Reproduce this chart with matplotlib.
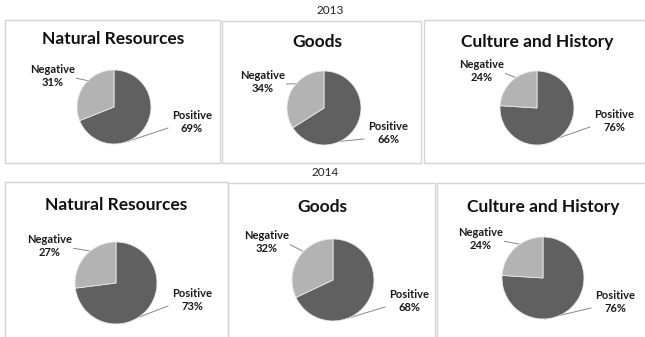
import numpy as np
import matplotlib
matplotlib.use("Agg")
import matplotlib.pyplot as plt
from matplotlib.patches import Rectangle

plt.rcParams['font.family'] = ['Lato', 'DejaVu Sans']

W, H = 645, 337

# data
years = ["2013", "2014"]
categories = ["Natural Resources", "Goods", "Culture and History"]
positive = [[69, 66, 76], [73, 68, 76]]
negative = [[31, 34, 24], [27, 32, 24]]

dark = "#606060"
light = "#b3b3b3"
edge = "#d4d4d4"

# layout (pixels): panel boxes, pie centres/radii, label spots
boxes = [[(5, 20, 220, 163), (222, 21, 421, 163), (424, 20, 648, 163)],
         [(5, 182, 228, 340), (228, 183, 435, 340), (437, 183, 648, 340)]]
centres = [[(114, 107), (324, 108), (537, 108)],
           [(116, 283), (333, 280), (543, 278)]]
radii = [37, 41]
title_pos = [[(113, 39), (317, 42), (537, 42)],
             [(116, 205), (322, 207), (543, 207)]]
neg_pos = [[(53, 76), (263, 82), (482, 71)],
           [(50, 246), (267, 242), (481, 239)]]
pos_pos = [[(192, 122), (388, 133), (614, 121)],
           [(192, 300), (409, 301), (615, 302)]]
year_pos = [(330, 10), (325, 172)]

fig = plt.figure(figsize=(W / 100, H / 100), dpi=100)
bg = fig.add_axes([0, 0, 1, 1])
bg.set_xlim(0, W)
bg.set_ylim(H, 0)
bg.axis("off")

for r in range(2):
    bg.text(year_pos[r][0], year_pos[r][1], years[r], ha="center", va="center",
            fontsize=8.5, color="#222222")
    for c in range(3):
        x0, y0, x1, y1 = boxes[r][c]
        bg.add_patch(Rectangle((x0, y0), x1 - x0, y1 - y0, fill=False,
                               edgecolor=edge, lw=1))
        tx, ty = title_pos[r][c]
        bg.text(tx, ty, categories[c], ha="center", va="center",
                fontsize=12.5, fontweight="bold", color="#111111")

        cx, cy = centres[r][c]
        rad = radii[r]
        ax = fig.add_axes([(cx - rad) / W, 1 - (cy + rad) / H,
                           2 * rad / W, 2 * rad / H])
        vals = [positive[r][c], negative[r][c]]
        wedges, _ = ax.pie(vals, colors=[dark, light], startangle=90,
                           counterclock=False, radius=1,
                           wedgeprops=dict(edgecolor="#e8e8e8", linewidth=0.6))
        ax.set_xlim(-1, 1)
        ax.set_ylim(-1, 1)
        ax.axis("off")

        # labels with leader lines
        for i, (name, spot) in enumerate([("Positive", pos_pos[r][c]),
                                          ("Negative", neg_pos[r][c])]):
            w = wedges[i]
            if i == 0:
                ang = np.deg2rad(w.theta1 + 0.35 * (w.theta2 - w.theta1))
            else:
                ang = np.deg2rad(w.theta1 + 0.4 * (w.theta2 - w.theta1))
            ex = cx + rad * np.cos(ang)
            ey = cy - rad * np.sin(ang)
            lx, ly = spot
            sx = lx - 24 if i == 0 else lx + 22
            sy = ly + 6 if i == 0 else ly + 2
            bg.plot([sx, ex], [sy, ey], color="#888888", lw=0.7)
            bg.text(lx, ly, "%s\n%d%%" % (name, vals[i]), ha="center",
                    va="center", fontsize=8, fontweight="bold",
                    color="#1a1a1a", linespacing=1.3,
                    bbox=dict(facecolor="white", edgecolor="none", pad=0.5))

fig.savefig("out.png", dpi=100)
